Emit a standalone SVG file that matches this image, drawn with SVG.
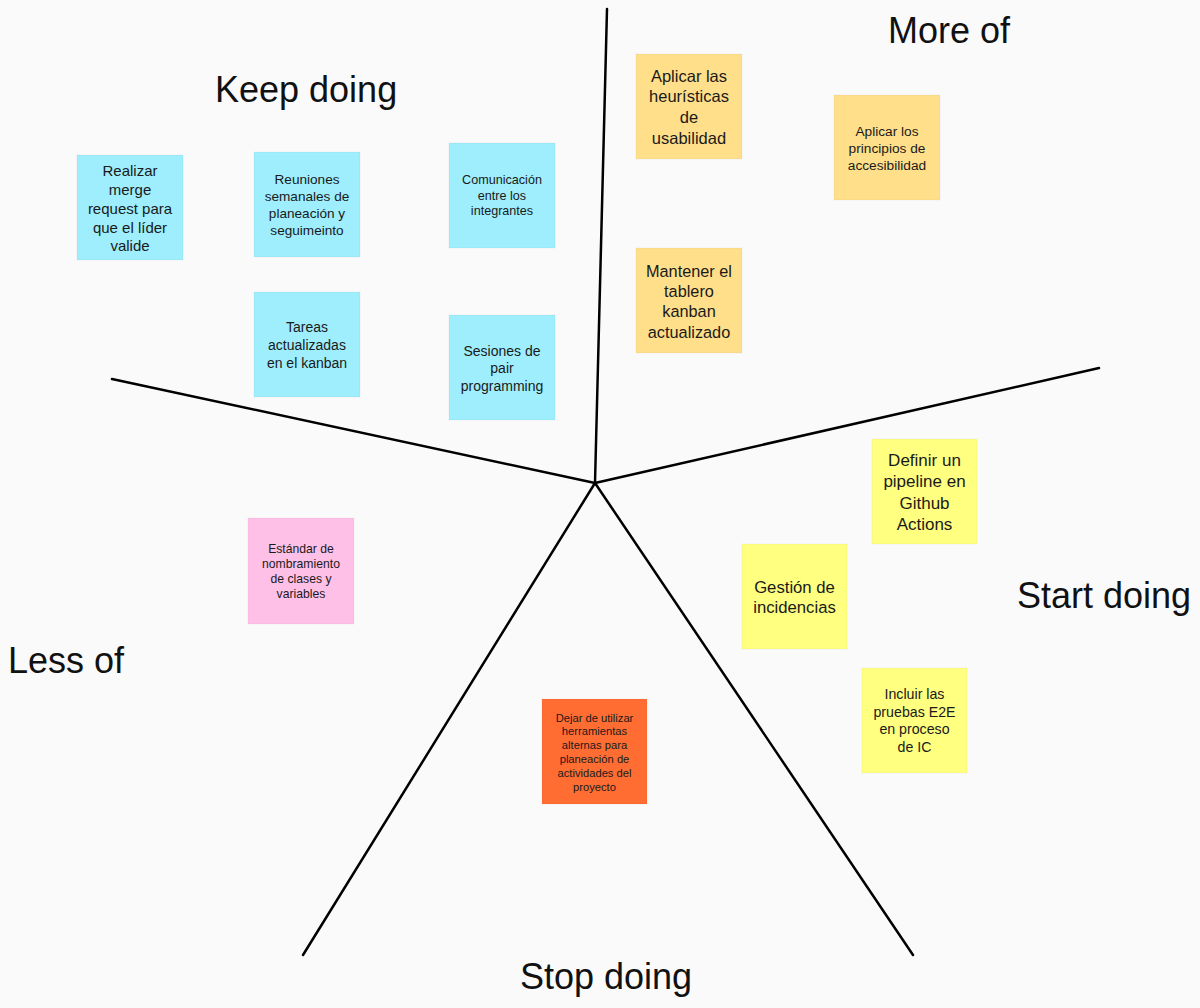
<svg xmlns="http://www.w3.org/2000/svg" width="1200" height="1008" viewBox="0 0 1200 1008">
<style>
text{font-family:"Liberation Sans",Arial,sans-serif;fill:#1a1a1a;text-anchor:middle}
.title{font-size:36px;fill:#111;text-anchor:start}
.note{stroke:#000;stroke-opacity:0.04;stroke-width:1}
.blue{fill:#9eeefd}
.amber{fill:#ffdf8a}
.yellow{fill:#ffff80}
.pink{fill:#ffc0e8}
.orange{fill:#ff6d33}
.div{stroke:#000;stroke-width:2.5;fill:none;stroke-linecap:round}
</style>
<rect width="1200" height="1008" fill="#fafafa"/>
<g id="connectors">
<line class="div" x1="595" y1="483" x2="607" y2="9"/>
<line class="div" x1="595" y1="483" x2="1099" y2="368"/>
<line class="div" x1="595" y1="483" x2="913" y2="955"/>
<line class="div" x1="595" y1="483" x2="303" y2="955"/>
<line class="div" x1="595" y1="483" x2="112" y2="379"/>
</g>
<g id="labels">
<text class="title" x="215" y="102">Keep doing</text>
<text class="title" x="888" y="43">More of</text>
<text class="title" x="1017" y="608">Start doing</text>
<text class="title" x="8" y="673">Less of</text>
<text class="title" x="520" y="989">Stop doing</text>
</g>
<g id="note-realizar">
<rect class="note blue" x="77" y="155" width="106" height="105"/>
<text font-size="15"><tspan x="130" y="176">Realizar</tspan><tspan x="130" y="195">merge</tspan><tspan x="130" y="214">request para</tspan><tspan x="130" y="232.5">que el líder</tspan><tspan x="130" y="251">valide</tspan></text>
</g>
<g id="note-reuniones">
<rect class="note blue" x="254" y="152" width="106" height="105"/>
<text font-size="13.6"><tspan x="307" y="184">Reuniones</tspan><tspan x="307" y="201">semanales de</tspan><tspan x="307" y="218">planeación y</tspan><tspan x="307" y="235">seguimeinto</tspan></text>
</g>
<g id="note-comunicacion">
<rect class="note blue" x="449" y="143" width="106" height="105"/>
<text font-size="12.6"><tspan x="502" y="183.7">Comunicación</tspan><tspan x="502" y="199.5">entre los</tspan><tspan x="502" y="215.3">integrantes</tspan></text>
</g>
<g id="note-tareas">
<rect class="note blue" x="254" y="292" width="106" height="105"/>
<text font-size="14"><tspan x="307" y="332.2">Tareas</tspan><tspan x="307" y="349.9">actualizadas</tspan><tspan x="307" y="367.6">en el kanban</tspan></text>
</g>
<g id="note-sesiones">
<rect class="note blue" x="449" y="315" width="106" height="105"/>
<text font-size="14"><tspan x="502" y="356">Sesiones de</tspan><tspan x="502" y="373.4">pair</tspan><tspan x="502" y="390.8">programming</tspan></text>
</g>
<g id="note-heuristicas">
<rect class="note amber" x="636" y="54" width="106" height="105"/>
<text font-size="16.5"><tspan x="689" y="81.5">Aplicar las</tspan><tspan x="689" y="102.3">heurísticas</tspan><tspan x="689" y="123">de</tspan><tspan x="689" y="143.8">usabilidad</tspan></text>
</g>
<g id="note-accesibilidad">
<rect class="note amber" x="834" y="95" width="106" height="105"/>
<text font-size="13.7"><tspan x="887" y="135.8">Aplicar los</tspan><tspan x="887" y="152.8">principios de</tspan><tspan x="887" y="169.8">accesibilidad</tspan></text>
</g>
<g id="note-tablero">
<rect class="note amber" x="636" y="248" width="106" height="105"/>
<text font-size="16.3"><tspan x="689" y="276.7">Mantener el</tspan><tspan x="689" y="297">tablero</tspan><tspan x="689" y="317.3">kanban</tspan><tspan x="689" y="337.7">actualizado</tspan></text>
</g>
<g id="note-pipeline">
<rect class="note yellow" x="872" y="439" width="105" height="105"/>
<text font-size="17"><tspan x="924.5" y="466">Definir un</tspan><tspan x="924.5" y="487.3">pipeline en</tspan><tspan x="924.5" y="508.5">Github</tspan><tspan x="924.5" y="529.7">Actions</tspan></text>
</g>
<g id="note-incidencias">
<rect class="note yellow" x="742" y="544" width="105" height="105"/>
<text font-size="16.7"><tspan x="794.5" y="592.5">Gestión de</tspan><tspan x="794.5" y="612.5">incidencias</tspan></text>
</g>
<g id="note-e2e">
<rect class="note yellow" x="862" y="668" width="105" height="105"/>
<text font-size="14.2"><tspan x="914.5" y="699">Incluir las</tspan><tspan x="914.5" y="716.5">pruebas E2E</tspan><tspan x="914.5" y="734">en proceso</tspan><tspan x="914.5" y="751.5">de IC</tspan></text>
</g>
<g id="note-estandar">
<rect class="note pink" x="248" y="518" width="106" height="106"/>
<text font-size="12.2"><tspan x="301" y="552.6">Estándar de</tspan><tspan x="301" y="567.6">nombramiento</tspan><tspan x="301" y="582.6">de clases y</tspan><tspan x="301" y="597.6">variables</tspan></text>
</g>
<g id="note-herramientas">
<rect class="note orange" x="542" y="699" width="105" height="105"/>
<text font-size="11.2"><tspan x="594.5" y="721.6">Dejar de utilizar</tspan><tspan x="594.5" y="735.4">herramientas</tspan><tspan x="594.5" y="749.2">alternas para</tspan><tspan x="594.5" y="763">planeación de</tspan><tspan x="594.5" y="776.8">actividades del</tspan><tspan x="594.5" y="790.6">proyecto</tspan></text>
</g>
</svg>
